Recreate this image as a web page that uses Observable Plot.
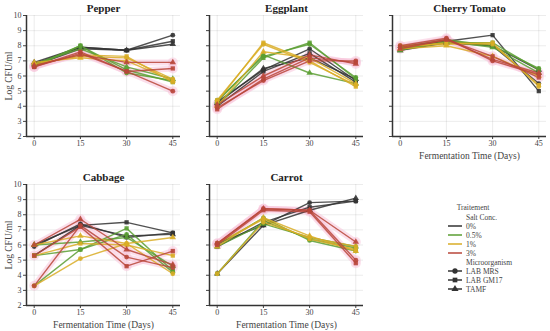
<!DOCTYPE html>
<html>
<head>
<meta charset="utf-8">
<script src="https://cdn.jsdelivr.net/npm/d3@7"></script>
<script src="https://cdn.jsdelivr.net/npm/@observablehq/plot@0.6"></script>
<style>
  html, body { margin: 0; padding: 0; background: #fff; }
  #wrap { position: relative; width: 550px; height: 331px; overflow: hidden; font-family: 'Liberation Serif', serif; }
  #wrap > svg, #wrap > figure { position: absolute; margin: 0; }
</style>
</head>
<body>
<div id="wrap"></div>
<script>
// ---- data ----
const days = [0, 15, 30, 45];
const salts = ["0%", "0.5%", "1%", "3%"];
const micros = ["LAB MRS", "LAB GM17", "TAMF"];
const vegetables = ["Pepper", "Eggplant", "Cherry Tomato", "Cabbage", "Carrot"];
const yTicks = [2, 3, 4, 5, 6, 7, 8, 9, 10];

// rows: salt-major, microorganism-minor; values at days 0, 15, 30, 45
const pepperValues = [
  [6.8, 7.9, 7.7, 8.7], [6.7, 7.8, 7.7, 8.3], [6.9, 7.9, 7.7, 8.1],
  [6.7, 8.0, 6.2, 5.7], [6.6, 8.0, 6.4, 5.6], [6.8, 7.8, 6.6, 5.8],
  [6.8, 7.3, 7.2, 5.8], [6.7, 7.4, 7.3, 5.6], [6.9, 7.2, 7.0, 5.7],
  [6.6, 7.5, 6.3, 5.0], [6.6, 7.6, 6.3, 6.5], [6.7, 7.4, 6.9, 6.9]
];
const eggplantValues = [
  [4.3, 6.4, 7.8, 5.7], [4.0, 6.3, 7.5, 5.6], [4.2, 6.5, 7.2, 5.8],
  [4.4, 7.3, 8.1, 5.9], [4.0, 7.2, 8.2, 5.8], [4.3, 7.4, 6.2, 5.5],
  [4.4, 8.1, 6.9, 5.4], [4.3, 8.2, 7.0, 5.3], [4.0, 7.6, 7.2, 5.5],
  [3.9, 5.7, 7.0, 7.0], [3.8, 5.8, 7.2, 6.9], [4.1, 6.0, 7.4, 6.8]
];
const cherryTomatoValues = [
  [7.9, 8.3, 8.0, 5.5], [7.8, 8.3, 8.7, 5.0], [7.7, 8.2, 8.0, 6.4],
  [7.9, 8.4, 8.0, 6.5], [7.8, 8.2, 8.2, 6.4], [7.7, 8.3, 7.9, 6.2],
  [8.0, 8.1, 8.2, 5.3], [7.9, 8.2, 8.1, 5.4], [7.8, 8.0, 7.3, 6.0],
  [8.0, 8.5, 7.0, 6.1], [7.9, 8.4, 7.3, 5.9], [7.8, 8.4, 7.1, 6.2]
];
const cabbageValues = [
  [5.9, 7.4, 6.5, 6.8], [5.3, 7.3, 7.5, 6.8], [6.0, 7.3, 6.6, 6.7],
  [3.3, 5.7, 6.7, 4.2], [5.3, 5.7, 7.1, 4.3], [6.0, 6.2, 6.5, 4.6],
  [3.3, 5.1, 6.1, 4.1], [5.3, 6.1, 6.0, 5.3], [6.0, 6.6, 6.1, 6.5],
  [3.3, 7.3, 5.2, 4.5], [5.3, 7.2, 4.6, 5.6], [6.0, 7.7, 5.7, 4.7]
];
const carrotValues = [
  [6.1, 7.3, 8.8, 8.9], [5.9, 7.5, 8.5, 8.9], [4.1, 7.3, 8.3, 9.1],
  [6.0, 7.8, 6.3, 5.6], [4.1, 7.6, 6.4, 5.8], [5.9, 7.4, 6.5, 5.9],
  [4.1, 7.5, 6.5, 5.9], [6.1, 7.7, 6.4, 5.7], [5.9, 7.8, 6.6, 5.6],
  [6.1, 8.4, 8.3, 5.0], [6.0, 8.3, 8.2, 4.8], [6.1, 8.4, 8.3, 6.2]
];
const valuesByVeg = [pepperValues, eggplantValues, cherryTomatoValues, cabbageValues, carrotValues];

// ---- styles ----
const saltColors = ["#333333", "#5a9e32", "#d9ad26", "#b8463a"];
const symbols = ["circle", "square", "triangle"];
const FONT = "'Liberation Serif', 'Times New Roman', serif";

function tidy(vals) {
  const out = [];
  vals.forEach((row, i) => {
    const salt = salts[Math.floor(i / micros.length)];
    const micro = micros[i % micros.length];
    row.forEach((v, j) => out.push({day: days[j], value: v, salt, micro, key: salt + "|" + micro}));
  });
  return out;
}

const wrap = document.getElementById("wrap");

function panel(idx) {
  const col = idx % 3, row = Math.floor(idx / 3);
  const data = tidy(valuesByVeg[idx]);
  const showY = col === 0;
  const showXLabel = row === 1 || col === 2;
  const marginTop = row === 0 ? 15 : 16;
  const height = row === 0 ? 165 : 163;
  const plotBottom = row === 0 ? 136 : 137;
  const marks = [
    Plot.ruleY([2], {stroke: "#333", strokeWidth: 1.5}),
    Plot.ruleX([-2.5], {stroke: "#333", strokeWidth: 1.5}),
    Plot.line(data.filter(d => d.salt === "3%"), {x: "day", y: "value", z: "key", stroke: "#f7c4da", strokeWidth: 6, strokeOpacity: 0.55}),
    Plot.dot(data.filter(d => d.salt === "3%"), {x: "day", y: "value", r: 5, fill: "#f7c4da", fillOpacity: 0.5}),
    Plot.line(data, {x: "day", y: "value", z: "key", stroke: "salt", strokeWidth: 1.4, strokeOpacity: 0.85}),
    Plot.dot(data, {x: "day", y: "value", symbol: "micro", fill: "salt", r: 2.4, fillOpacity: 0.9}),
    Plot.text([vegetables[idx]], {frameAnchor: "top", dy: -7, fontSize: 11, fontWeight: "bold", fill: "#222", lineAnchor: "middle"})
  ];
  if (showXLabel) marks.push(Plot.text(["Fermentation Time (Days)"], {frameAnchor: "bottom", dy: 19, fontSize: 9.5, fill: "#444", lineAnchor: "middle"}));
  if (showY) marks.push(Plot.text(["Log CFU/ml"], {frameAnchor: "left", dx: -18, rotate: -90, fontSize: 9.5, fill: "#444", textAnchor: "middle"}));
  const svg = Plot.plot({
    width: 183, height,
    marginLeft: 26, marginRight: 3, marginTop, marginBottom: height - plotBottom,
    style: {fontFamily: FONT, fontSize: "8px", background: "transparent", color: "#444", overflow: "visible"},
    x: {domain: [-2.5, 47.5], ticks: days, tickSize: 3, tickPadding: 1, grid: true, label: null},
    y: {domain: [2, 10], ticks: yTicks, tickSize: 3, tickPadding: 2, grid: true, label: null, tickFormat: showY ? (d => d) : (() => "")},
    color: {domain: salts, range: saltColors},
    symbol: {domain: micros, range: symbols},
    marks
  });
  svg.style.left = (col * 183) + "px";
  svg.style.top = (row === 0 ? 0 : 168) + "px";
  wrap.appendChild(svg);
}
for (let i = 0; i < vegetables.length; i++) panel(i);

// ---- legend ----
const lg = d3.select(wrap).append("svg")
  .attr("width", 110).attr("height", 100)
  .style("left", "440px").style("top", "200px")
  .style("font-family", FONT).style("font-size", "7.5px").style("fill", "#444");
lg.append("text").attr("x", 33).attr("y", 7).attr("text-anchor", "middle").attr("dy", "0.35em").text("Traitement");
lg.append("text").attr("x", 26).attr("y", 17).attr("dy", "0.35em").text("Salt Conc.");
salts.forEach((s, i) => {
  const y = 26 + i * 9;
  lg.append("line").attr("x1", 8).attr("x2", 22).attr("y1", y).attr("y2", y).attr("stroke", saltColors[i]).attr("stroke-width", 1.5);
  lg.append("text").attr("x", 26).attr("y", y).attr("dy", "0.35em").text(s);
});
lg.append("text").attr("x", 26).attr("y", 62).attr("dy", "0.35em").text("Microorganism");
const sym = [d3.symbolCircle, d3.symbolSquare, d3.symbolTriangle];
micros.forEach((m, i) => {
  const y = 71 + i * 9;
  lg.append("line").attr("x1", 8).attr("x2", 22).attr("y1", y).attr("y2", y).attr("stroke", "#333").attr("stroke-width", 1.5);
  lg.append("path").attr("d", d3.symbol(sym[i], 22)()).attr("transform", `translate(15,${y})`).attr("fill", "#333");
  lg.append("text").attr("x", 26).attr("y", y).attr("dy", "0.35em").text(m);
});
</script>
</body>
</html>
